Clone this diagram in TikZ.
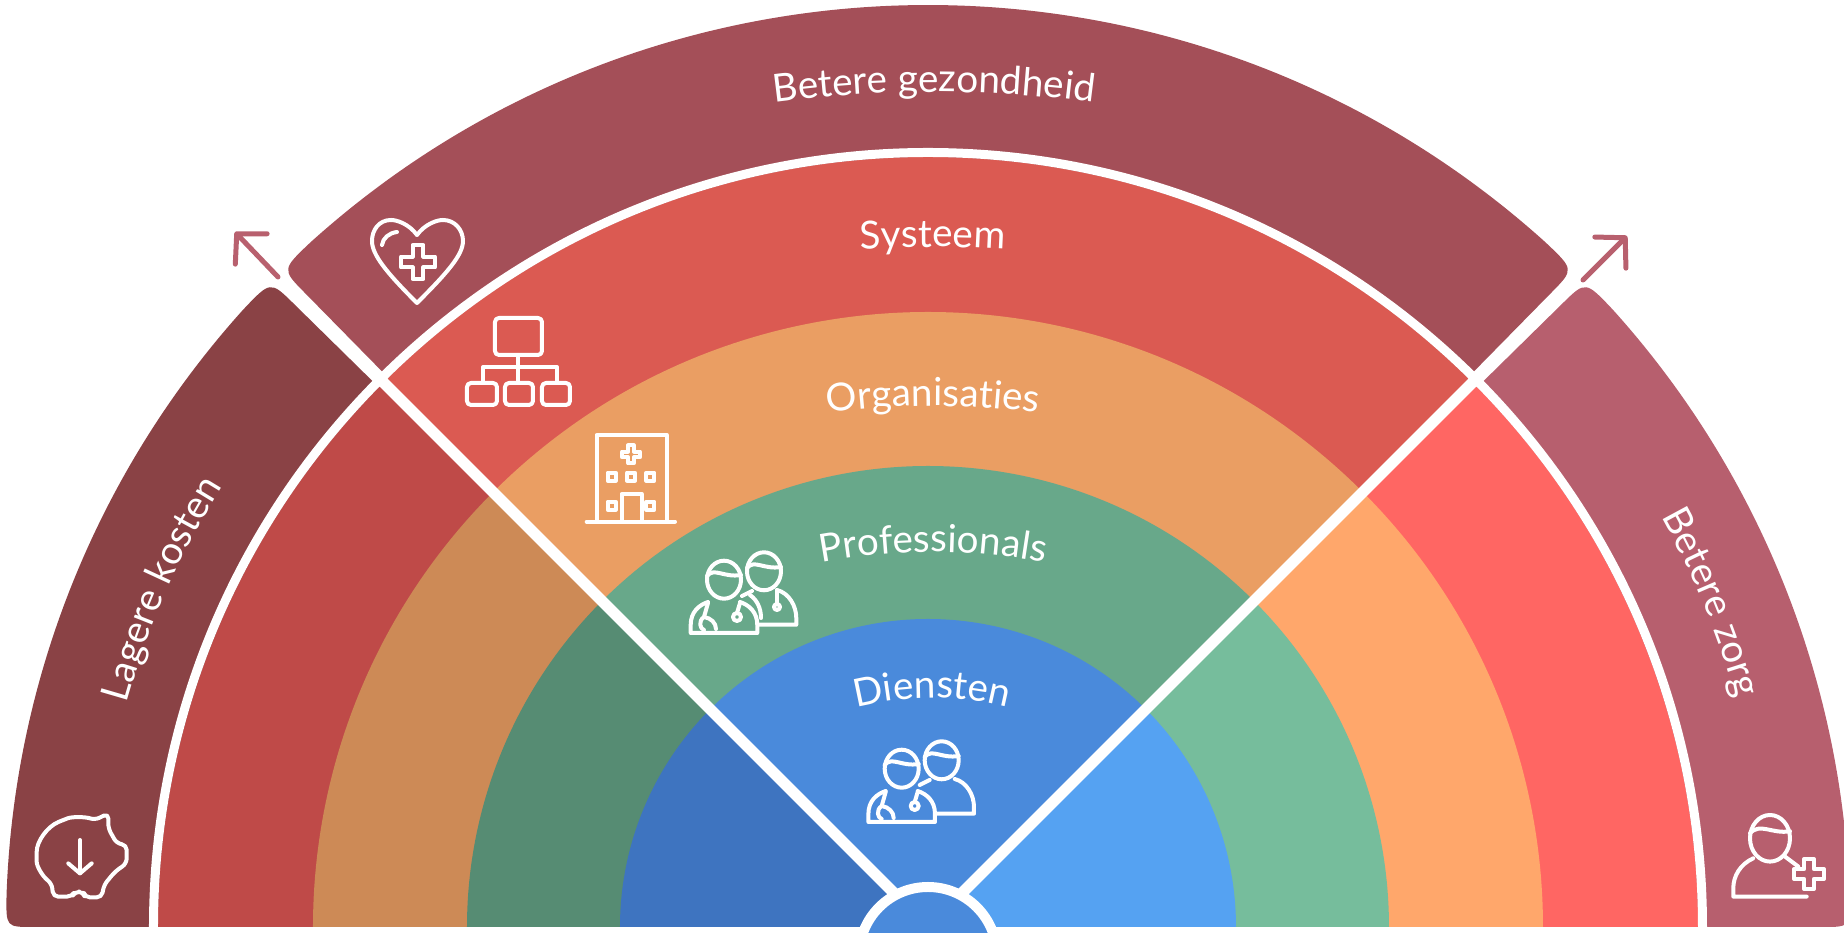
\documentclass[tikz,border=0pt]{standalone}
\usepackage{fontspec}
\setmainfont{Lato}
\usetikzlibrary{arrows.meta,decorations.text}

\definecolor{bandL}{HTML}{8A4245}
\definecolor{bandM}{HTML}{A44F58}
\definecolor{bandR}{HTML}{B75F6E}
\definecolor{sysL}{HTML}{BF4A48}
\definecolor{sysM}{HTML}{DB5A52}
\definecolor{sysR}{HTML}{FF6663}
\definecolor{orgL}{HTML}{CD8A56}
\definecolor{orgM}{HTML}{EA9E63}
\definecolor{orgR}{HTML}{FFA76B}
\definecolor{proL}{HTML}{568C73}
\definecolor{proM}{HTML}{68A88A}
\definecolor{proR}{HTML}{76BD9C}
\definecolor{dieL}{HTML}{3E74C0}
\definecolor{dieM}{HTML}{4A8ADB}
\definecolor{dieR}{HTML}{55A2F2}
\definecolor{arrowcol}{HTML}{B8606E}

\newcommand{\labelfont}{\fontsize{11}{13}\selectfont}

\tikzset{
    ringtext/.style={decorate,decoration={text along path,text align=center,
        text={|\color{white}\labelfont|#1}}},
    icon/.style={white,line width=0.04cm,line join=round,line cap=round},
    outarrow/.style={arrowcol,line width=0.05cm,line cap=round,
        -{Straight Barb[round,length=0.21cm,width=0.44cm]}},
    plusmark/.pic={
        \draw[icon] (-.32,1) -- (.32,1) -- (.32,.32) -- (1,.32) -- (1,-.32) -- (.32,-.32) -- (.32,-1)
            -- (-.32,-1) -- (-.32,-.32) -- (-1,-.32) -- (-1,.32) -- (-.32,.32) -- cycle;
    },
    personpair/.pic={
        \draw[icon] (-.2,.183) ellipse (.17 and .19);
        \draw[icon] (-.37,.22) .. controls (-.3,.31) and (-.2,.2) .. (-.03,.23);
        \draw[icon] (-.36,-.04) .. controls (-.45,-.07) and (-.533,-.14) .. (-.533,-.27) -- (-.533,-.35)
            -- (.133,-.35) -- (.133,-.27) .. controls (.133,-.14) and (.05,-.07) .. (-.04,-.04);
        \draw[icon] (.2,.267) ellipse (.17 and .19);
        \draw[icon] (.03,.3) .. controls (.1,.39) and (.2,.28) .. (.37,.31);
        \draw[icon] (-.02,.02) -- (.08,.07);
        \draw[icon] (.33,.08) .. controls (.45,.05) and (.523,-.08) .. (.523,-.2) -- (.523,-.267) -- (.15,-.267);
        % stethoscope of the one in front
        \draw[icon] (-.36,-.05) -- (-.4,-.19) .. controls (-.46,-.23) and (-.44,-.31) .. (-.4,-.32);
        \draw[icon] (-.4,-.19) .. controls (-.33,-.2) and (-.28,-.25) .. (-.28,-.31);
        \draw[icon] (-.04,-.05) -- (-.07,-.15);
        \draw[icon] (-.07,-.19) circle (.04);
    },
    backscope/.pic={
        \draw[icon] (.33,.08) -- (.33,-.05);
        \draw[icon] (.33,-.09) circle (.03);
        \draw[icon] (.06,.03) .. controls (.13,-.02) and (.17,-.1) .. (.17,-.2);
    },
}

\begin{document}
\begin{tikzpicture}
    \clip (-9.28,-0.06) rectangle (9.16,9.27);

    % outer bands
    \fill[bandM] (134.5:7) -- (134.5:8.9) .. controls (134.5:9.22) .. (132:9.22)
        arc (132:48:9.22) .. controls (45.5:9.22) .. (45.5:8.9) -- (45.5:7) -- cycle;
    \fill[bandL] (135.5:7) -- (135.5:8.9) .. controls (135.5:9.22) .. (138:9.22)
        arc (138:178:9.22) .. controls (180:9.22) .. (-8.95,0) -- (-7,0) -- cycle;
    \fill[bandR] (44.5:7) -- (44.5:8.9) .. controls (44.5:9.22) .. (42:9.22)
        arc (42:2:9.22) .. controls (0:9.22) .. (8.95,0) -- (7,0) -- cycle;

    % the rings, three sectors each
    \foreach \rad/\leftcol/\midcol/\rightcol in {7.70/sysL/sysM/sysR,6.15/orgL/orgM/orgR,4.61/proL/proM/proR,3.08/dieL/dieM/dieR} {
        \fill[\leftcol] (0,0) -- (180:\rad) arc (180:135:\rad) -- cycle;
        \fill[\midcol] (0,0) -- (135:\rad) arc (135:45:\rad) -- cycle;
        \fill[\rightcol] (0,0) -- (45:\rad) arc (45:0:\rad) -- cycle;
    }

    \draw[white,line width=0.09cm] (180:7.745) arc (180:0:7.745);

    \coordinate (hub) at (0,0);
    \coordinate (leftend) at (135:9.4);
    \coordinate (rightend) at (45:9.4);
    \draw[white,line width=0.11cm] (hub) -- (leftend);
    \draw[white,line width=0.11cm] (hub) -- (rightend);
    \filldraw[draw=white,fill=dieM,line width=0.10cm] (0,-0.29) circle (0.69);

    % arrows
    \coordinate (tailL) at (-6.50,6.50);
    \coordinate (tipL) at (-6.93,6.95);
    \coordinate (tailR) at (6.55,6.47);
    \coordinate (tipR) at (6.99,6.91);
    \draw[outarrow] (tailL) -- (tipL);
    \draw[outarrow] (tailR) -- (tipR);

    % labels
    \path[shift={(0.06,-3.65)},ringtext={Betere gezondheid}] (105:12) arc (105:75:12);
    \path[shift={(0.05,-5.20)},ringtext={Systeem}] (105:12) arc (105:75:12);
    \path[shift={(0.05,-2.79)},ringtext={Organisaties}] (110:8) arc (110:70:8);
    \path[shift={(0.05,-2.25)},ringtext={Professionals}] (115:6) arc (115:65:6);
    \path[shift={(0.04,-0.71)},ringtext={Diensten}] (130:3) arc (130:50:3);
    \path[ringtext={Lagere kosten}] (176:8.32) arc (176:136.4:8.32);
    \path[ringtext={Betere zorg}] (45:8.40) arc (45:0:8.40);

    % heart
    \begin{scope}[shift={(-5.11,6.67)}]
        \draw[icon] (0,.25) .. controls (.08,.36) and (.2,.40) .. (.26,.40) .. controls (.38,.40) and (.46,.30) .. (.46,.19)
            .. controls (.46,.05) and (.3,-.13) .. (0,-.43) .. controls (-.3,-.13) and (-.45,.05) .. (-.45,.19)
            .. controls (-.45,.30) and (-.38,.40) .. (-.26,.40) .. controls (-.2,.40) and (-.08,.36) .. (0,.25);
        \draw[icon] (-.35,.15) .. controls (-.34,.22) and (-.28,.27) .. (-.2,.28);
        \pic[scale=.17] at (.01,-.02) {plusmark};
    \end{scope}

    % network
    \begin{scope}[shift={(-4.10,5.57)}]
        \draw[icon,rounded corners=0.04cm] (-.23,.15) rectangle (.24,.52);
        \draw[icon] (0,.15) -- (0,.03);
        \draw[icon] (-.35,-.13) -- (-.35,.03) -- (.39,.03) -- (.39,-.13);
        \draw[icon] (0,.03) -- (0,-.13);
        \foreach \xa/\xb in {-.51/-.21,-.13/.15,.24/.52} {
            \draw[icon,rounded corners=0.04cm] (\xa,-.35) rectangle (\xb,-.13);
        }
    \end{scope}

    % hospital
    \begin{scope}[shift={(-2.97,4.503)}]
        \draw[icon] (-.343,-.433) -- (-.343,.417) -- (.357,.417) -- (.357,-.433);
        \draw[icon] (-.443,-.45) -- (.44,-.45);
        \pic[scale=.09] at (0,.223) {plusmark};
        \foreach \wx/\wy in {-.193/0,0/0,.193/0,-.193/-.29,.193/-.29} {
            \draw[icon] (\wx-.04,\wy-.04) rectangle (\wx+.04,\wy+.04);
        }
        \draw[icon] (-.093,-.433) -- (-.093,-.173) -- (.107,-.173) -- (.107,-.433);
    \end{scope}

    % doctors
    \pic at (-1.84,3.29) {personpair};
    \pic at (-1.84,3.29) {backscope};
    \pic at (-0.063,1.40) {personpair};

    % piggy bank
    \begin{scope}[shift={(-8.48,0.703)}]
        \draw[icon,rounded corners=0.05cm] (.283,.433) -- (.15,.367) .. controls (.05,.4) and (-.08,.4) .. (-.167,.367)
            .. controls (-.33,.3) and (-.433,.15) .. (-.433,0) .. controls (-.433,-.1) and (-.37,-.2) .. (-.283,-.267)
            -- (-.267,-.4) -- (-.083,-.4) -- (-.05,-.35) -- (.033,-.35) -- (.05,-.407) -- (.217,-.407) -- (.24,-.283)
            -- (.35,-.15) -- (.467,-.067) -- (.467,.117) -- (.367,.133) -- (.283,.283) -- cycle;
        \draw[icon] (0,.167) -- (0,-.167);
        \draw[icon] (-.117,-.067) -- (0,-.167) -- (.117,-.067);
    \end{scope}

    % person with plus
    \begin{scope}[shift={(8.42,0.887)}]
        \draw[icon] (0,0) ellipse (.2 and .233);
        \draw[icon] (-.2,.05) .. controls (-.1,.16) and (.02,.04) .. (.2,.07);
        \draw[icon] (-.167,-.2) .. controls (-.3,-.26) and (-.367,-.38) .. (-.367,-.5) -- (-.367,-.583) -- (.367,-.583);
        \draw[icon] (.15,-.183) -- (.283,-.283);
        \pic[scale=.15] at (.39,-.357) {plusmark};
    \end{scope}
\end{tikzpicture}
\end{document}
